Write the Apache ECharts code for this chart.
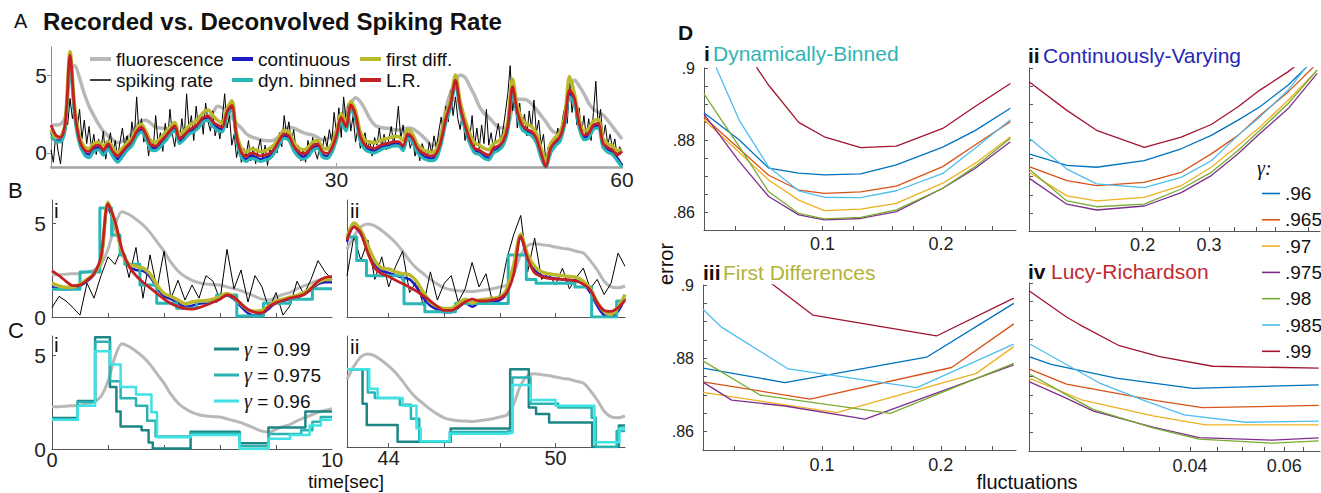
<!DOCTYPE html>
<html>
<head>
<meta charset="utf-8">
<title>Recorded vs. Deconvolved Spiking Rate</title>
<script src="https://cdn.jsdelivr.net/npm/echarts@6/dist/echarts.min.js"></script>
<style>
  html, body { margin: 0; padding: 0; background: #fff; }
  #chart { width: 1321px; height: 493px; }
</style>
</head>
<body>
<div id="chart"></div>
<script>
const FONT = '"Liberation Sans", Arial, Helvetica, sans-serif';
const SERIF = '"Liberation Serif", "DejaVu Serif", serif';

// ---------- panel A : 0-60 s (traces every 0.5 s, spiking every 0.25 s)
const A_STEP = 0.5;
const SPIKE_STEP = 0.25;

const fluorA = [
  1.79,1.79,1.85,2.3,5.3,5.6,4.8,3.8,3.0,2.4,
  1.85,1.4,1.1,0.85,0.65,0.75,1.0,1.25,1.75,2.05,
  2.1,1.9,1.65,1.6,1.58,1.5,1.45,1.3,1.2,1.45,
  1.6,1.8,1.95,2.3,2.6,3.0,2.9,2.75,2.3,1.9,
  1.6,1.25,1.05,0.95,0.85,0.8,0.78,0.85,1.1,1.5,
  1.65,1.6,1.45,1.3,1.22,1.15,1.0,0.85,0.9,1.1,
  1.45,2.1,2.75,3.2,3.55,3.3,2.8,2.2,1.8,1.65,
  1.6,1.58,1.5,1.47,1.55,1.6,1.55,1.35,1.1,0.8,
  0.5,0.55,1.3,2.9,3.9,4.6,5.0,4.85,4.3,3.7,
  3.0,2.55,2.3,1.95,1.65,1.6,1.7,2.9,3.45,3.45,
  3.4,3.15,2.8,2.4,2.0,1.55,1.3,1.35,2.3,4.0,
  4.68,4.3,3.8,3.2,2.8,2.6,2.45,2.1,1.7,1.3,
  0.9
];

const spikeA = [
  0.2,-0.6,1.2,0.1, -0.7,0.9,2.6,1.8, 3.5,2.2,3.2,1.5, 2.8,0.9,2.1,0.6, 1.7,0.3,1.2,-0.1,
  0.9,0.2,1.4,-0.4, 0.6,1.3,0.0,0.8, -0.3,0.7,1.6,0.4, 1.1,0.2,2.0,0.9, 3.6,1.2,2.2,0.7,
  1.4,-0.2,0.9,0.3, 2.4,0.6,1.3,0.1, 1.9,0.8,2.8,1.2, 0.4,1.6,0.7,2.2, 1.0,3.8,1.5,2.4,
  0.8,3.0,1.6,2.5, 1.2,3.2,2.0,1.4, 2.7,1.1,1.8,0.9, 2.2,3.8,1.6,2.4, 0.5,1.2,-0.3,0.6,
  -0.6,0.3,-0.2,0.8, -0.5,0.4,-0.7,0.2, 0.9,-0.4,0.5,-0.8, 0.3,-0.3,0.7,0.0, 1.3,0.4,2.4,1.2,
  2.0,0.6,1.5,0.2, 0.5,-0.5,0.3,-0.6, 0.8,-0.2,1.0,0.1, -0.4,0.6,0.2,1.1, 0.4,1.5,0.7,2.6,
  1.2,2.9,1.0,3.6, 2.1,3.2,1.4,2.4, 0.7,1.6,0.3,0.9, 1.3,0.2,0.8,-0.2, 1.0,0.5,1.6,0.3,
  1.2,0.2,0.9,1.7, 0.6,1.4,3.0,0.9, 1.8,0.5,1.2,0.3, 0.9,-0.2,0.5,-0.5, 0.6,0.1,-0.4,0.7,
  0.0,1.1,0.3,1.4, 2.3,1.2,3.0,2.0, 4.0,2.4,3.6,2.2, 1.5,2.8,0.8,1.9, 0.9,2.4,0.4,1.6,
  0.3,1.8,0.6,2.8, 0.5,1.3,0.2,1.1, 1.9,0.7,1.5,2.6, 3.8,5.6,2.7,3.9, 1.6,3.2,1.4,2.5,
  1.1,2.7,1.6,3.4, 1.3,2.1,0.5,1.2, -0.6,0.4,-0.2,0.8, 0.5,1.6,0.7,2.2, 3.0,1.9,4.5,2.6,
  3.7,1.8,2.9,1.2, 2.4,1.0,2.2,0.8, 2.6,4.6,1.7,2.8, 0.9,1.8,0.5,1.2, 0.3,0.9,-0.3,0.4,
  0.1
];

const contA = [
  1.3,0.85,0.8,1.7,5.9,2.4,0.7,0.05,-0.1,0.25,
  0.35,0.0,0.4,-0.1,-0.4,-0.1,0.3,0.6,1.2,1.5,
  1.0,0.35,0.3,0.55,0.9,1.3,1.6,0.75,1.0,1.35,
  1.5,1.75,2.15,2.25,1.85,1.6,1.5,2.5,2.9,0.9,
  -0.15,-0.4,-0.2,-0.25,-0.4,-0.3,-0.2,0.15,0.7,1.1,
  0.95,0.3,-0.1,-0.25,-0.1,0.3,0.45,-0.1,-0.2,0.15,
  1.0,2.15,1.55,2.95,2.3,0.9,0.35,0.2,0.15,0.3,
  0.45,0.5,0.6,0.6,0.3,1.1,0.8,0.15,-0.15,-0.3,
  -0.35,-0.2,0.7,2.1,3.05,4.5,2.85,1.65,0.75,0.15,
  0.05,-0.2,-0.3,0.15,0.3,0.6,1.55,4.0,2.5,1.65,
  1.4,1.25,0.8,-0.2,-0.9,0.15,0.6,0.9,2.0,3.75,
  3.3,1.75,1.0,1.1,1.65,1.75,0.5,0.2,0.05,-0.3,
  -0.8
];

const dynA = [
  1.05,0.75,0.7,1.5,5.5,2.2,0.55,-0.1,-0.3,0.1,
  0.2,-0.15,0.25,-0.25,-0.6,-0.25,0.15,0.45,1.05,1.35,
  0.85,0.2,0.15,0.4,0.75,1.15,1.45,0.6,0.85,1.2,
  1.35,1.6,2.0,2.1,1.7,1.45,1.35,2.35,2.75,0.75,
  -0.3,-0.55,-0.35,-0.4,-0.55,-0.45,-0.35,0.0,0.55,0.95,
  0.8,0.15,-0.25,-0.4,-0.25,0.15,0.3,-0.25,-0.35,0.0,
  0.85,2.0,1.4,2.8,2.15,0.75,0.2,0.05,0.0,0.15,
  0.3,0.35,0.45,0.45,0.15,0.95,0.65,0.0,-0.3,-0.45,
  -0.5,-0.35,0.55,1.95,2.9,4.35,2.7,1.5,0.6,0.0,
  -0.1,-0.35,-0.45,0.0,0.15,0.45,1.4,3.85,2.35,1.5,
  1.25,1.1,0.65,-0.35,-0.95,0.0,0.45,0.75,1.85,3.6,
  3.15,1.6,0.85,0.95,1.5,1.6,0.35,0.05,-0.1,-0.5,
  -0.9
];

const firstA = [
  1.5,1.0,1.05,2.0,6.5,2.9,1.05,0.4,0.3,0.6,
  0.7,0.4,0.75,0.3,0.0,0.3,0.65,0.95,1.55,1.85,
  1.35,0.75,0.7,0.95,1.3,1.65,1.95,1.2,1.4,1.75,
  1.95,2.2,2.6,2.75,2.4,2.1,1.9,2.85,3.35,1.3,
  0.3,0.05,0.25,0.2,0.1,0.15,0.3,0.55,1.05,1.45,
  1.35,0.7,0.35,0.2,0.35,0.7,0.8,0.35,0.25,0.55,
  1.4,2.5,1.95,3.3,2.7,1.35,0.8,0.7,0.65,0.8,
  0.9,0.95,1.05,1.05,0.8,1.5,1.2,0.55,0.25,0.1,
  0.05,0.25,1.1,2.5,3.4,5.0,3.3,2.15,1.25,0.65,
  0.5,0.3,0.2,0.6,0.75,1.0,2.0,4.75,3.0,2.15,
  1.85,1.7,1.25,0.3,-0.5,0.6,1.0,1.35,2.4,4.9,
  3.8,2.2,1.4,1.55,2.05,2.15,0.9,0.6,0.45,0.15,
  0.2
];

const lrA = [
  1.79,1.15,1.0,1.9,6.28,2.6,0.83,0.19,0.09,0.41,
  0.51,0.19,0.58,0.09,-0.19,0.09,0.45,0.77,1.37,1.65,
  1.15,0.51,0.45,0.73,1.05,1.43,1.73,0.9,1.15,1.47,
  1.65,1.9,2.29,2.37,2.0,1.79,1.65,2.65,3.06,1.05,
  0.02,-0.24,-0.02,-0.06,-0.19,-0.13,-0.02,0.3,0.83,1.22,
  1.09,0.45,0.09,-0.06,0.09,0.45,0.58,0.09,-0.02,0.3,
  1.15,2.29,1.69,3.08,2.44,1.05,0.51,0.36,0.3,0.45,
  0.58,0.62,0.73,0.73,0.45,1.22,0.94,0.3,0.02,-0.13,
  -0.19,-0.02,0.83,2.22,3.18,4.68,2.97,1.79,0.88,0.3,
  0.19,-0.02,-0.13,0.3,0.45,0.73,1.69,4.25,2.65,1.79,
  1.52,1.37,0.94,-0.02,-0.88,0.3,0.73,1.05,2.12,4.04,
  3.5,1.9,1.15,1.26,1.79,1.9,0.62,0.36,0.19,-0.13,
  0.09
];

// ---------- panels B and C : two 10 s windows, every 0.25 s
const WIN_STEP = 0.25;
const WIN1_START = 0;
const WIN2_START = 42.5;

const fluorW1 = [2.25,2.25,2.28,2.3,2.32,2.4,2.5,2.8,3.6,4.9, 5.6,5.45,5.2,4.9,4.5,4.0,3.5,2.9,2.45,2.15,
  1.95,1.82,1.75,1.72,1.7,1.6,1.5,1.4,1.25,1.1, 0.95,0.9,1.05,1.2,1.3,1.5,1.65,1.8,1.95,2.05, 2.15];
const spikeW1 = [0.5,1.1,0.85,0.5,0.1,1.8,1.0,2.2,3.2,2.8, 3.7,2.1,3.7,1.0,3.3,1.5,3.5,1.0,1.95,0.9,
  1.7,1.0,2.2,1.9,0.9,3.6,1.5,2.5,0.8,2.2, 1.6,0.4,1.3,0.1,0.6,1.9,1.2,2.0,3.0,2.4, 2.0];
const contW1 = [1.6,1.5,1.48,1.5,1.65,1.9,2.25,3.0,5.8,4.9, 3.4,2.7,2.5,2.45,2.15,1.55,1.1,0.95,0.75,0.55,
  0.6,0.7,0.75,0.85,1.0,1.15,0.95,0.55,0.2,0.08, 0.15,0.45,0.75,0.85,0.95,1.05,1.2,1.45,1.75,1.85, 1.85];
const firstW1 = [1.8,1.65,1.58,1.6,1.75,2.0,2.3,3.0,6.1,5.0, 3.5,2.8,2.7,2.6,2.3,1.7,1.25,1.1,0.9,0.7,
  0.8,0.85,0.88,0.95,1.1,1.25,1.05,0.7,0.38,0.3, 0.35,0.6,0.85,0.95,1.05,1.15,1.3,1.55,1.85,2.0, 2.0];
const lrW1 = [2.45,2.2,1.9,1.67,1.7,1.95,2.3,3.2,6.0,5.1, 3.6,2.7,2.2,1.85,1.55,1.25,0.95,0.72,0.56,0.44,
  0.42,0.5,0.63,0.78,0.95,1.17,1.05,0.7,0.4,0.25, 0.22,0.55,0.75,0.88,1.0,1.08,1.2,1.5,1.9,2.1, 2.15];
// dynamically binned rate: [time of step, level]
const dynW1 = [[0,1.47],[1.0,2.4],[1.71,5.8],[2.13,4.36],[2.43,3.3],[2.6,2.8],[3.14,1.7],[3.74,0.73],
  [4.45,0.46],[5.17,0.82],[5.88,1.17],[6.6,0.05],[7.55,0.73],[8.5,0.95],[9.3,1.5],[10,1.5]];

const fluorW2 = [3.6,4.3,4.8,4.95,4.85,4.6,4.3,3.95,3.5,3.0, 2.6,2.3,2.0,1.75,1.55,1.45,1.4,1.38,1.35,1.4,
  1.45,1.5,1.6,1.7,2.3,3.3,3.8,3.9,3.85,3.8, 3.72,3.65,3.6,3.5,3.4,3.0,2.5,1.9,1.6,1.55, 1.65];
const spikeW2 = [2.2,4.3,3.0,4.1,2.0,3.2,1.6,2.7,3.5,1.3, 1.9,0.6,2.4,0.9,1.8,2.2,0.8,1.5,2.9,1.6,
  2.3,0.7,1.2,3.1,4.4,5.4,2.4,4.2,2.0,2.3, 1.7,2.6,1.5,2.1,2.6,1.5,2.0,1.2,1.8,3.4, 2.7];
const contW2 = [4.0,4.8,4.4,3.5,2.8,2.45,2.35,2.2,2.1,2.0, 1.6,1.0,0.6,0.4,0.25,0.25,0.5,0.75,0.55,0.75,
  0.8,0.85,0.9,1.3,2.7,4.2,3.1,2.5,2.2,2.1, 2.05,2.0,1.95,1.95,1.75,1.3,0.6,0.1,0.0,0.3, 1.0];
const firstW2 = [4.2,5.0,4.6,3.8,3.0,2.6,2.55,2.4,2.3,2.25, 1.9,1.3,0.8,0.55,0.45,0.45,0.7,0.95,0.75,0.9,
  0.95,1.0,1.05,1.5,2.8,4.4,3.3,2.7,2.4,2.3, 2.25,2.2,2.15,2.1,1.9,1.5,0.8,0.3,0.15,0.5, 1.2];
const lrW2 = [4.1,4.8,4.45,3.4,2.6,2.3,2.15,1.95,1.78,1.58, 1.38,1.12,0.85,0.55,0.35,0.35,0.55,0.8,0.95,0.85,
  0.85,0.92,1.0,1.3,2.3,4.3,3.1,2.35,2.15,2.05, 2.02,2.0,1.97,1.9,1.75,1.45,0.75,0.35,0.3,0.5, 0.9];
const dynW2 = [[42.5,4.25],[42.85,3.0],[43.2,2.2],[44.5,2.0],[44.55,0.7],[45.3,0.28],[46.4,0.72],
  [48.3,3.3],[48.95,2.0],[49.3,1.8],[50.7,1.6],[51.3,0.0],[52.2,0.85],[52.5,0.85]];

// panel C: binned rate for three gamma values, [time of step, level]
const binW1g99 = [[0,1.65],[0.92,2.55],[1.54,5.95],[2.07,3.3],[2.3,2.0],[2.45,1.2],[3.2,1.0],[3.45,0.35],
  [3.6,0.03],[4.95,0.92],[6.7,0.3],[7.73,1.15],[9.05,2.0],[10,2.0]];
const binW1g975 = [[0,1.55],[0.92,2.5],[1.54,5.7],[2.07,3.6],[2.45,2.7],[3.0,2.3],[3.4,1.5],[3.7,0.66],
  [4.95,0.83],[6.7,0.15],[7.73,0.8],[8.9,1.0],[9.3,1.45],[9.6,1.7],[10,1.7]];
const binW1g96 = [[0,1.55],[0.92,2.3],[1.54,5.2],[2.07,4.5],[2.45,3.3],[3.0,2.9],[3.55,1.95],[3.75,0.62],
  [4.95,0.74],[6.7,0.0],[7.73,0.55],[8.5,0.75],[9.2,1.25],[9.6,1.55],[10,1.55]];
const binW2g99 = [[42.5,4.13],[43.06,2.3],[43.21,1.17],[44.32,0.28],[46.23,0.99],[48.37,4.13],[49.04,2.1],
  [49.3,1.75],[49.77,1.3],[51.32,0.0],[52.28,1.15],[52.5,1.15]];
const binW2g975 = [[42.5,4.13],[43.25,2.9],[43.5,2.6],[44.4,2.25],[44.8,1.5],[45.1,0.3],[46.2,0.8],[48.3,0.85],
  [48.45,3.7],[49.1,2.3],[50.1,2.1],[51.3,1.55],[51.45,0.0],[52.2,0.85],[52.5,0.85]];
const binW2g96 = [[42.5,4.13],[43.3,3.1],[43.6,2.6],[44.5,2.2],[45.0,1.0],[45.15,0.3],[46.2,0.7],[48.3,0.75],
  [48.45,3.3],[49.1,2.5],[50.0,2.2],[51.4,0.25],[52.3,1.0],[52.5,1.0]];

// ---------- panel D : error vs fluctuations
const gammas = ['.96', '.965', '.97', '.975', '.98', '.985', '.99'];
const gammaColors = ['#0072BD', '#D95319', '#EDB120', '#7E2F8E', '#77AC30', '#4DBEEE', '#A2142F'];

const dynBinnedX = [0.05, 0.0615, 0.073, 0.087, 0.101, 0.125, 0.154, 0.202, 0.244, 0.30];
const dynBinnedErr = [
  [0.8876, 0.8800, 0.8722, 0.8708, 0.8703, 0.8706, 0.8731, 0.8780, 0.8826, 0.8888],
  [0.8863, 0.8775, 0.8702, 0.8661, 0.8652, 0.8656, 0.8672, 0.8726, 0.8786, 0.8851],
  [0.8856, 0.8765, 0.8689, 0.8633, 0.8604, 0.8608, 0.8624, 0.8680, 0.8735, 0.8809],
  [0.8872, 0.8740, 0.8643, 0.8592, 0.8578, 0.8582, 0.8601, 0.8666, 0.8721, 0.8795],
  [0.8928, 0.8781, 0.8656, 0.8596, 0.8581, 0.8585, 0.8606, 0.8666, 0.8726, 0.8805],
  [0.9078, 0.8854, 0.8725, 0.8659, 0.8641, 0.8640, 0.8659, 0.8707, 0.8777, 0.8856],
  [0.9217, 0.9072, 0.8952, 0.8849, 0.8809, 0.8779, 0.8783, 0.8832, 0.8893, 0.8957]
];

const contVaryingX = [0.1, 0.126, 0.151, 0.202, 0.253, 0.304, 0.358, 0.409, 0.486, 0.58];
const contVaryingErr = [
  [0.8763, 0.8731, 0.8726, 0.8744, 0.8777, 0.8814, 0.8856, 0.8893, 0.8953, 0.9031],
  [0.8728, 0.8689, 0.8675, 0.8684, 0.8712, 0.8763, 0.8814, 0.8869, 0.8934, 0.9013],
  [0.8712, 0.8647, 0.8633, 0.8643, 0.8675, 0.8726, 0.8786, 0.8837, 0.8911, 0.8994],
  [0.8696, 0.8624, 0.8608, 0.8619, 0.8656, 0.8703, 0.8763, 0.8819, 0.8888, 0.8985],
  [0.8721, 0.8633, 0.8617, 0.8624, 0.8666, 0.8712, 0.8772, 0.8828, 0.8902, 0.8994],
  [0.8807, 0.8721, 0.8680, 0.8670, 0.8698, 0.8744, 0.8814, 0.8865, 0.8939, 0.9042],
  [0.8962, 0.8883, 0.8828, 0.8781, 0.8809, 0.8844, 0.8893, 0.8939, 0.8990, 0.9050]
];

// [fluctuations, error] per gamma
const firstDiffCurves = [
  [[0.05,0.8773],[0.0806,0.8734],[0.184,0.8803],[0.306,0.8950]],
  [[0.05,0.8736],[0.0933,0.8689],[0.213,0.8775],[0.306,0.8894]],
  [[0.05,0.8707],[0.109,0.8652],[0.246,0.8759],[0.306,0.8832]],
  [[0.05,0.8735],[0.0591,0.8686],[0.0806,0.8670],[0.1286,0.8634],[0.306,0.8782]],
  [[0.05,0.8793],[0.0697,0.8700],[0.149,0.8650],[0.306,0.8786]],
  [[0.05,0.8934],[0.0557,0.8885],[0.0822,0.8771],[0.174,0.8720],[0.306,0.8839]],
  [[0.0608,0.9077],[0.0754,0.9000],[0.0948,0.8918],[0.195,0.8861],[0.306,0.8964]]
];

const lucyCurves = [
  [[0.02,0.8803],[0.022,0.8782],[0.0291,0.8745],[0.0405,0.8718],[0.0696,0.8727]],
  [[0.02,0.8770],[0.0235,0.8729],[0.0346,0.8685],[0.0422,0.8666],[0.0696,0.8672]],
  [[0.02,0.8745],[0.0252,0.8686],[0.0341,0.8644],[0.0428,0.8620],[0.0696,0.8620]],
  [[0.02,0.8736],[0.0232,0.8695],[0.0264,0.8657],[0.0341,0.8614],[0.0416,0.8586],[0.057,0.8579],[0.0696,0.8585]],
  [[0.02,0.8757],[0.0232,0.8705],[0.0264,0.8661],[0.0341,0.8612],[0.0416,0.8582],[0.057,0.8571],[0.0696,0.8577]],
  [[0.02,0.8838],[0.0238,0.8777],[0.0271,0.8732],[0.0327,0.8686],[0.039,0.8647],[0.0509,0.8627],[0.0696,0.8630]],
  [[0.02,0.8979],[0.0235,0.8909],[0.0249,0.8888],[0.0295,0.8832],[0.0351,0.8803],[0.0441,0.8777],[0.0696,0.8772]]
];

// tick positions / labels
const errTicks = [0.86, 0.865, 0.87, 0.875, 0.88, 0.885, 0.89, 0.895, 0.9];
const errLabels = [0.86, 0.88, 0.9];
const flucTicksShort = [0.06, 0.08, 0.1, 0.12, 0.15, 0.17, 0.2, 0.23, 0.27];
const flucLabelsShort = [0.1, 0.2];
const flucTicksCont = [0.15, 0.2, 0.25, 0.3, 0.35, 0.4, 0.45, 0.55];
const flucLabelsCont = [0.2, 0.3];
const flucTicksLucy = [0.025, 0.03, 0.035, 0.04, 0.045, 0.05, 0.055, 0.06, 0.065];
const flucLabelsLucy = [0.04, 0.06];

// ---------- colours
const C_FLUOR = '#b8b8b8', C_SPIKE = '#000000', C_CONT = '#1c1cc4',
      C_DYN = '#28b6b6', C_FIRST = '#b9b92b', C_LR = '#c42024';
const C_G99 = '#1c8686', C_G975 = '#2bb3b3', C_G96 = '#3fe3e3';

// ---------- helpers
const lg = Math.log10;
const timed = (t0, step, vals) => vals.map((v, i) => [t0 + i * step, v]);
const logX = pts => pts.map(p => [lg(p[0]), p[1]]);

function axis(gi, min, max, o) {
  o = o || {};
  const c = o.lineColor || '#555';
  return {
    type: 'value', gridIndex: gi, min: min, max: max,
    axisLine: { show: true, onZero: false, lineStyle: { color: c, width: o.lineWidth || 1 } },
    axisTick: { show: !!o.ticks, inside: o.tickInside !== false, length: 4,
                customValues: o.ticks, lineStyle: { color: c } },
    axisLabel: { show: !!o.labels, customValues: o.labels, formatter: o.format,
                 fontSize: o.fontSize || 21, fontFamily: FONT, color: '#222',
                 margin: o.margin == null ? 6 : o.margin },
    splitLine: { show: false }
  };
}
const logFmt = v => String(+Math.pow(10, v).toPrecision(2));
const errFmt = v => v.toFixed(2).replace(/0$/, '').replace(/^0/, '');

const series = [];
function addLine(gi, name, data, color, width, extra) {
  series.push(Object.assign({
    type: 'line', name: name, xAxisIndex: gi, yAxisIndex: gi, data: data,
    symbol: 'none', showSymbol: false, silent: true, animation: false,
    lineStyle: { color: color, width: width, join: 'round' }, itemStyle: { color: color }
  }, extra || {}));
}

// panel A
addLine(0, 'fluorescence', timed(0, A_STEP, fluorA), C_FLUOR, 3.5, { smooth: 0.3 });
addLine(0, 'spiking rate', timed(0, SPIKE_STEP, spikeA), C_SPIKE, 1);
addLine(0, 'continuous', timed(0, A_STEP, contA), C_CONT, 2.5, { smooth: 0.3 });
addLine(0, 'dyn. binned', timed(0, A_STEP, dynA), C_DYN, 3, { smooth: 0.3 });
addLine(0, 'first diff.', timed(0, A_STEP, firstA), C_FIRST, 3.5, { smooth: 0.3 });
addLine(0, 'L.R.', timed(0, A_STEP, lrA), C_LR, 2.8, { smooth: 0.3 });

// panel B
[[1, WIN1_START, fluorW1, spikeW1, contW1, dynW1, firstW1, lrW1],
 [2, WIN2_START, fluorW2, spikeW2, contW2, dynW2, firstW2, lrW2]].forEach(w => {
  const [gi, t0, fl, sp, co, dy, fd, lr] = w;
  addLine(gi, 'fluorescence', timed(t0, WIN_STEP, fl), C_FLUOR, 3, { smooth: 0.3 });
  addLine(gi, 'spiking rate', timed(t0, WIN_STEP, sp), C_SPIKE, 1);
  addLine(gi, 'continuous', timed(t0, WIN_STEP, co), C_CONT, 2.5, { smooth: 0.3 });
  addLine(gi, 'dyn. binned', dy, C_DYN, 3, { step: 'end' });
  addLine(gi, 'first diff.', timed(t0, WIN_STEP, fd), C_FIRST, 3.5, { smooth: 0.3 });
  addLine(gi, 'L.R.', timed(t0, WIN_STEP, lr), C_LR, 2.8, { smooth: 0.3 });
});

// panel C
[[3, WIN1_START, fluorW1, binW1g99, binW1g975, binW1g96],
 [4, WIN2_START, fluorW2, binW2g99, binW2g975, binW2g96]].forEach(w => {
  const [gi, t0, fl, g99, g975, g96] = w;
  addLine(gi, 'fluorescence', timed(t0, WIN_STEP, fl), C_FLUOR, 3, { smooth: 0.3 });
  addLine(gi, 'γ = 0.99', g99, C_G99, 2.5, { step: 'end' });
  addLine(gi, 'γ = 0.975', g975, C_G975, 2.5, { step: 'end' });
  addLine(gi, 'γ = 0.96', g96, C_G96, 2.5, { step: 'end' });
});

// panel D
gammas.forEach((g, k) => {
  addLine(5, g, dynBinnedX.map((x, i) => [lg(x), dynBinnedErr[k][i]]), gammaColors[k], 1.3);
  addLine(6, g, contVaryingX.map((x, i) => [lg(x), contVaryingErr[k][i]]), gammaColors[k], 1.3);
  addLine(7, g, logX(firstDiffCurves[k]), gammaColors[k], 1.3);
  addLine(8, g, logX(lucyCurves[k]), gammaColors[k], 1.3);
});

const grids = [
  { left: 51, top: 47, width: 571, height: 120 },   // A
  { left: 52, top: 200, width: 280, height: 117 },  // B i
  { left: 347, top: 200, width: 278, height: 117 }, // B ii
  { left: 52, top: 336, width: 280, height: 113 },  // C i
  { left: 347, top: 336, width: 278, height: 111 }, // C ii
  { left: 704, top: 68, width: 312, height: 162 },  // D i
  { left: 1029, top: 68, width: 291, height: 163 }, // D ii
  { left: 703, top: 285, width: 313, height: 165 }, // D iii
  { left: 1029, top: 283, width: 291, height: 168 } // D iv
];

const xAxes = [
  axis(0, 0, 60, { labels: [30, 60], ticks: [30, 60], lineColor: '#a3a3a3', lineWidth: 2.5, margin: 2 }),
  axis(1, 0, 10, { ticks: [2, 4, 6, 8] }),
  axis(2, 42.5, 52.5, { ticks: [44, 46, 48, 50] }),
  axis(3, 0, 10, { ticks: [2, 4, 6, 8], labels: [0, 10], margin: 1, fontSize: 20 }),
  axis(4, 42.5, 52.5, { ticks: [44, 46, 48, 50], labels: [44, 50], margin: 1, fontSize: 20 }),
  axis(5, lg(0.05), lg(0.31), { ticks: flucTicksShort.map(lg), labels: flucLabelsShort.map(lg), format: logFmt, fontSize: 18, margin: 5 }),
  axis(6, lg(0.1), lg(0.59), { ticks: flucTicksCont.map(lg), labels: flucLabelsCont.map(lg), format: logFmt, fontSize: 18, margin: 5 }),
  axis(7, lg(0.05), lg(0.31), { ticks: flucTicksShort.map(lg), labels: flucLabelsShort.map(lg), format: logFmt, fontSize: 18, margin: 6 }),
  axis(8, lg(0.02), lg(0.07), { ticks: flucTicksLucy.map(lg), labels: flucLabelsLucy.map(lg), format: logFmt, fontSize: 18, margin: 6 })
];
const yAxes = [
  axis(0, -0.9, 6.8, { labels: [0, 5], ticks: [0, 5], tickInside: false, lineColor: '#8c8c8c', margin: 4 }),
  axis(1, 0, 117 / 18.8, { labels: [0, 5], ticks: [5], margin: 6 }),
  axis(2, 0, 117 / 18.8, {}),
  axis(3, 0, 113 / 18.8, { labels: [0, 5], ticks: [5], margin: 6 }),
  axis(4, 0, 111 / 18.8, {}),
  axis(5, 0.855, 0.9, { ticks: errTicks, labels: errLabels, format: errFmt, fontSize: 16, margin: 9 }),
  axis(6, 0.855, 0.9, { ticks: errTicks }),
  axis(7, 0.855, 0.9, { ticks: errTicks, labels: errLabels, format: errFmt, fontSize: 16, margin: 9 }),
  axis(8, 0.855, 0.9, { ticks: errTicks })
];

function legendItem(name, left, top, h) {
  return {
    show: true, left: left, top: top, orient: 'vertical', icon: 'rect',
    itemWidth: 21, itemHeight: h, itemGap: 0, selectedMode: false,
    itemStyle: { borderWidth: 0 }, data: [name],
    textStyle: { fontSize: 19, fontFamily: FONT, color: '#111', lineHeight: 20 }
  };
}
const legends = [
  legendItem('fluorescence', 85, 44, 4),
  legendItem('spiking rate', 85, 65, 1.5),
  legendItem('continuous', 227, 44, 4),
  legendItem('dyn. binned', 227, 65, 4),
  legendItem('first diff.', 355, 44, 4),
  legendItem('L.R.', 355, 65, 4),
  {
    show: true, left: 209, top: 334, orient: 'vertical', icon: 'rect',
    itemWidth: 25, itemHeight: 3, itemGap: 6, selectedMode: false,
    itemStyle: { borderWidth: 0 }, data: ['γ = 0.99', 'γ = 0.975', 'γ = 0.96'],
    formatter: n => '{g|γ}{t|' + n.slice(1) + '}',
    textStyle: { fontSize: 19, fontFamily: FONT, color: '#111', lineHeight: 20,
      rich: { g: { fontSize: 20, fontFamily: SERIF, fontStyle: 'italic', color: '#111' },
              t: { fontSize: 19, fontFamily: FONT, color: '#111' } } }
  },
  {
    show: true, left: 1257, top: 179, orient: 'vertical', icon: 'rect',
    itemWidth: 18, itemHeight: 1.6, itemGap: 7.3, selectedMode: false,
    itemStyle: { borderWidth: 0 }, data: gammas,
    textStyle: { fontSize: 19, fontFamily: FONT, color: '#111', lineHeight: 19 }
  }
];

function txt(text, x, y, o) {
  o = o || {};
  return {
    type: 'text', x: x, y: y, rotation: o.rot || 0, silent: true,
    style: { text: text, fill: o.color || '#111', fontSize: o.size || 21, fontFamily: o.family || FONT,
             fontWeight: o.weight || 'normal', fontStyle: o.style || 'normal',
             align: o.align || 'left', verticalAlign: 'middle' }
  };
}
const texts = [
  txt('A', 14, 21, { size: 20 }),
  txt('Recorded vs. Deconvolved Spiking Rate', 43, 21, { size: 24, weight: 'bold' }),
  txt('B', 8, 190, { size: 22 }),
  txt('C', 8, 330, { size: 22 }),
  txt('D', 678, 32, { size: 21, weight: 'bold' }),
  txt('i', 54, 210), txt('ii', 350, 210),
  txt('i', 54, 344), txt('ii', 350, 346),
  txt('time[sec]', 346, 481, { size: 19, align: 'center' }),
  txt('i', 704, 53, { weight: 'bold' }),
  txt('Dynamically-Binned', 713, 53, { color: '#2fb4b4' }),
  txt('ii', 1028, 55, { weight: 'bold' }),
  txt('Continuously-Varying', 1043, 55, { color: '#2727b8' }),
  txt('iii', 703, 272, { weight: 'bold' }),
  txt('First Differences', 723, 272, { color: '#b3b335' }),
  txt('iv', 1028, 271, { weight: 'bold' }),
  txt('Lucy-Richardson', 1051, 271, { color: '#bf2a2f' }),
  txt('error', 666, 264, { size: 20, align: 'center', rot: Math.PI / 2 }),
  txt('fluctuations', 1027, 482, { size: 20, align: 'center' }),
  txt('γ:', 1257, 168, { size: 20, family: SERIF, style: 'italic' })
];

const chart = echarts.init(document.getElementById('chart'), null, { renderer: 'svg' });
chart.setOption({
  animation: false,
  backgroundColor: '#ffffff',
  textStyle: { fontFamily: FONT },
  grid: grids,
  xAxis: xAxes,
  yAxis: yAxes,
  legend: legends,
  series: series,
  graphic: texts
});
window.addEventListener('resize', () => chart.resize());
</script>
</body>
</html>
